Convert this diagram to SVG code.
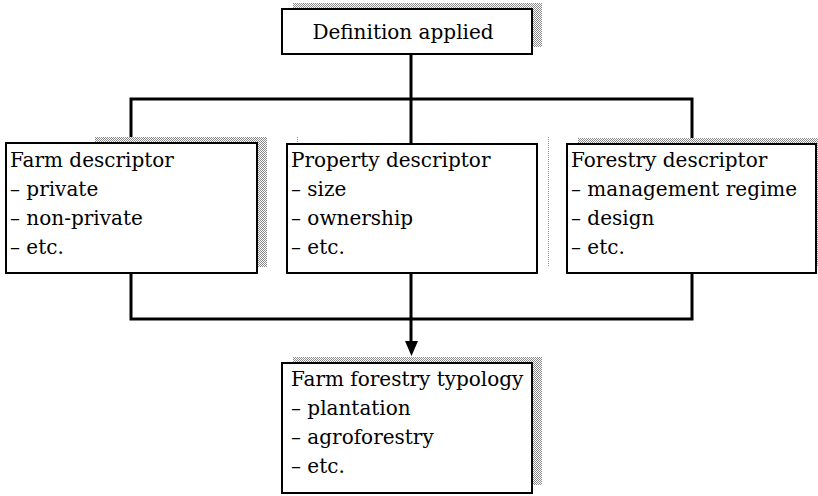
<svg xmlns="http://www.w3.org/2000/svg" width="818" height="496" viewBox="0 0 818 496">
  <defs>
    <pattern id="dots" width="2" height="2" patternUnits="userSpaceOnUse">
      <rect width="2" height="2" fill="#ffffff"/>
      <rect x="0" y="0" width="1" height="1" fill="#8a8a8a"/>
      <rect x="1" y="1" width="1" height="1" fill="#8a8a8a"/>
    </pattern>
  </defs>
  <style>
    .shadow { fill: url(#dots); }
    .box { fill: #ffffff; stroke: #000; stroke-width: 2; }
    .txt { font-family: 'DejaVu Serif', serif; font-size: 20px; fill: #000; }
    .conn { fill: none; stroke: #000; stroke-width: 3; }
    .thin { fill: none; stroke: #9a9a9a; stroke-width: 1; stroke-dasharray: 1 1; }
  </style>
  <rect width="818" height="496" fill="#ffffff"/>

  <!-- connectors: fan-out from the definition, fan-in to the typology -->
  <g id="connectors">
    <path class="conn" d="M411,54 V144"/>
    <path class="conn" d="M131,143 V99 H692 V144"/>
    <path class="conn" d="M131,273 V319 H692 V273"/>
    <path class="conn" d="M411,273 V342"/>
    <path d="M405,341 L418,341 L411.5,356 Z" fill="#000"/>
  </g>

  <g id="definition">
    <rect class="shadow" x="293" y="3" width="249" height="44"/>
    <rect class="box" x="282" y="9" width="250" height="45"/>
    <text class="txt" x="403" y="39" text-anchor="middle">Definition applied</text>
  </g>

  <g id="farm">
    <rect class="shadow" x="95" y="137" width="172" height="130"/>
    <rect class="box" x="6" y="143" width="251" height="130"/>
    <text class="txt">
      <tspan x="10" y="167">Farm descriptor</tspan>
      <tspan x="10" y="196">– private</tspan>
      <tspan x="10" y="225">– non-private</tspan>
      <tspan x="10" y="254">– etc.</tspan>
    </text>
  </g>

  <g id="property">
    <path class="thin" d="M297.5,137 V144 M548.5,137 V267"/>
    <rect class="box" x="287" y="144" width="250" height="129"/>
    <text class="txt">
      <tspan x="291" y="167">Property descriptor</tspan>
      <tspan x="291" y="196">– size</tspan>
      <tspan x="291" y="225">– ownership</tspan>
      <tspan x="291" y="254">– etc.</tspan>
    </text>
  </g>

  <g id="forestry">
    <rect class="shadow" x="578" y="138" width="250" height="129"/>
    <rect class="box" x="567" y="144" width="249" height="129"/>
    <text class="txt">
      <tspan x="571" y="167">Forestry descriptor</tspan>
      <tspan x="571" y="196">– management regime</tspan>
      <tspan x="571" y="225">– design</tspan>
      <tspan x="571" y="254">– etc.</tspan>
    </text>
  </g>

  <g id="typology">
    <rect class="shadow" x="293" y="357" width="249" height="128"/>
    <rect class="box" x="282" y="363" width="250" height="130"/>
    <text class="txt">
      <tspan x="291" y="386">Farm forestry typology</tspan>
      <tspan x="291" y="415">– plantation</tspan>
      <tspan x="291" y="444">– agroforestry</tspan>
      <tspan x="291" y="473">– etc.</tspan>
    </text>
  </g>
</svg>
